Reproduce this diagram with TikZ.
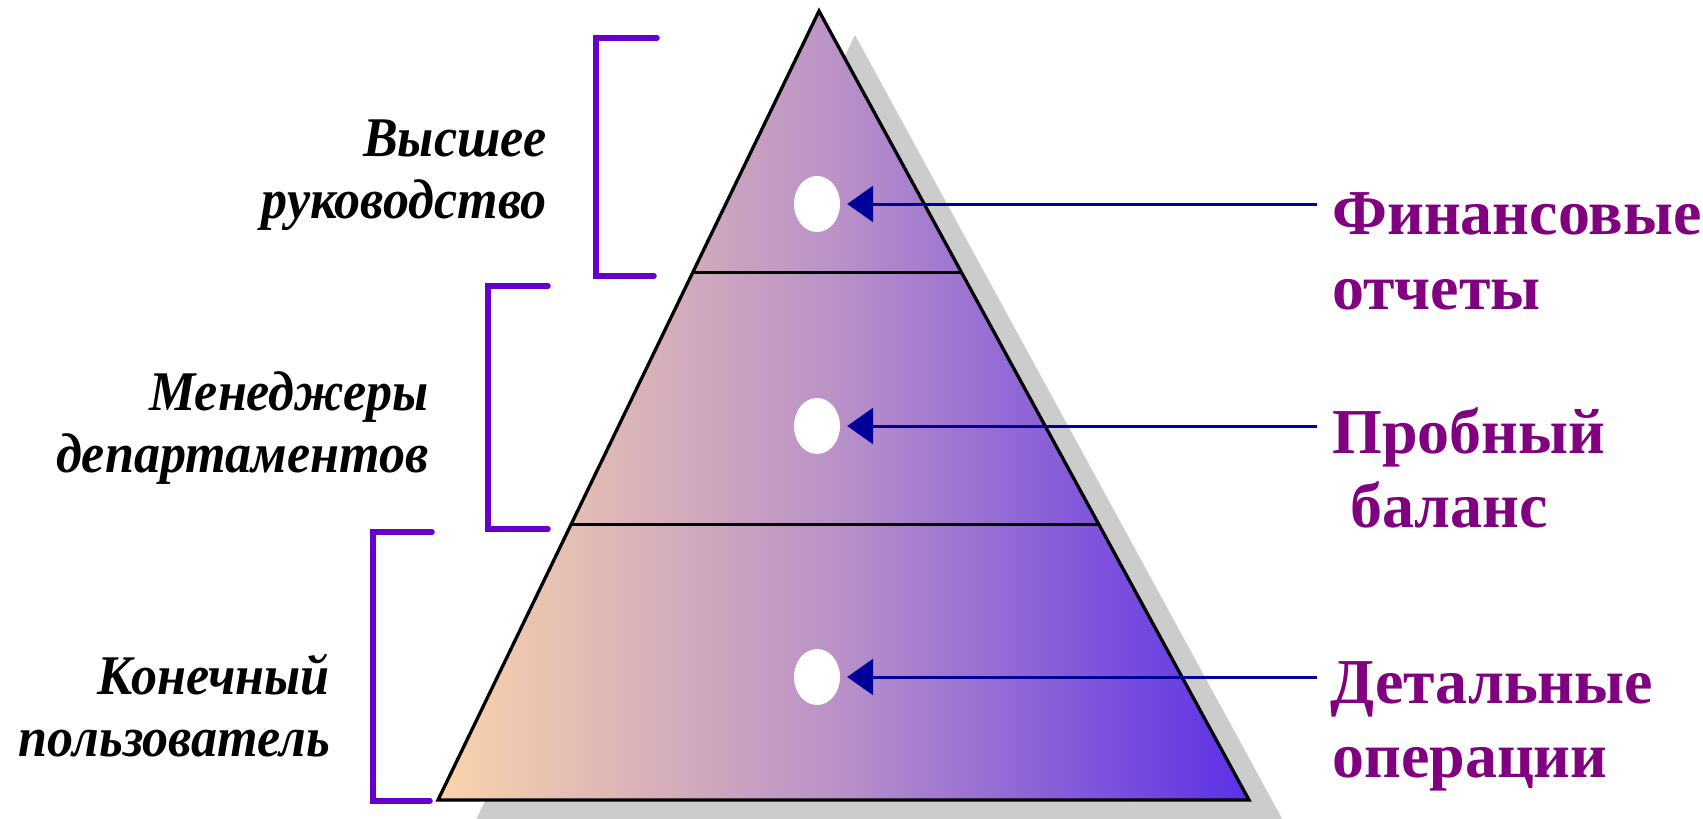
\documentclass[tikz,border=0pt]{standalone}
\usepackage{fontspec}
\setmainfont{Liberation Serif}
\newfontfamily\levelfont[FakeStretch=0.93]{Liberation Serif}
\usetikzlibrary{arrows.meta,shapes.geometric,calc}
\definecolor{brk_purple}{RGB}{102,0,204}
\definecolor{txt_purple}{RGB}{128,0,128}
\definecolor{arr_blue}{RGB}{0,0,153}
\definecolor{shadow_gray}{RGB}{204,204,204}
\definecolor{grad_left}{RGB}{250,212,170}
\definecolor{grad_mid}{RGB}{184,144,200}
\definecolor{grad_right}{RGB}{92,48,232}

\begin{document}
\begin{tikzpicture}[x=1pt, y=-1pt,
    level/.style={font=\levelfont\fontsize{56}{68}\selectfont\bfseries\itshape, anchor=base east, inner sep=0pt},
    report/.style={font=\fontsize{64}{76}\selectfont\bfseries, text=txt_purple, anchor=base west, inner sep=0pt},
    hole/.style={ellipse, fill=white, minimum width=46pt, minimum height=56pt, inner sep=0pt},
    pointer/.style={arr_blue, line width=3pt, -{Triangle[length=26pt,width=36pt]}, shorten >=7pt},
    bracket/.style={brk_purple, line width=5.5pt, line cap=round}]
  \useasboundingbox (0,0) rectangle (1703,819);
  % shadow behind the pyramid
  \begin{scope}
    \clip (0,0) rectangle (1703,819);
    \fill[shadow_gray] (855,35) -- (1285,824) -- (474,824) -- cycle;
  \end{scope}
  % pyramid
  \coordinate (apex) at (819,11);
  \coordinate (bl) at (438,800);
  \coordinate (br) at (1249,800);
  \shade[left color=grad_left, right color=grad_right, middle color=grad_mid]
    (apex) -- (br) -- (bl) -- cycle;
  \draw[line width=3.3pt, line join=miter] (apex) -- (br) -- (bl) -- cycle;
  \draw[line width=3pt] ($(apex)!0.332!(bl)$) -- ($(apex)!0.332!(br)$);
  \draw[line width=3pt] ($(apex)!0.651!(bl)$) -- ($(apex)!0.651!(br)$);
  \node[hole] (h1) at (817,204) {};
  \node[hole] (h2) at (817,426) {};
  \node[hole] (h3) at (817,677) {};
  % levels
  \draw[bracket] (657,38) -- (596,38) -- (596,276) -- (654,276);
  \draw[bracket] (548,286) -- (488,286) -- (488,529) -- (548,529);
  \draw[bracket] (432,532) -- (373,532) -- (373,801) -- (430,801);
  \node[level] (l1a) at (547,156) {Высшее};
  \node[level] (l1b) at (547,218) {руководство};
  \node[level] (l2a) at (429,410) {Менеджеры};
  \node[level] (l2b) at (429,472) {департаментов};
  \node[level] (l3a) at (330,694) {Конечный};
  \node[level] (l3b) at (330,756) {пользователь};
  % reports
  \node[report] (r1a) at (1332,234) {Финансовые};
  \node[report] (r1b) at (1332,309) {отчеты};
  \node[report] (r2a) at (1332,453) {Пробный};
  \node[report] (r2b) at (1350,527) {баланс};
  \node[report] (r3a) at (1330,703) {Детальные};
  \node[report] (r3b) at (1332,777) {операции};
  \coordinate (s1) at (1317,204);
  \coordinate (s2) at (1317,426);
  \coordinate (s3) at (1317,677);
  \draw[pointer] (s1) -- (h1);
  \draw[pointer] (s2) -- (h2);
  \draw[pointer] (s3) -- (h3);
\end{tikzpicture}
\end{document}
